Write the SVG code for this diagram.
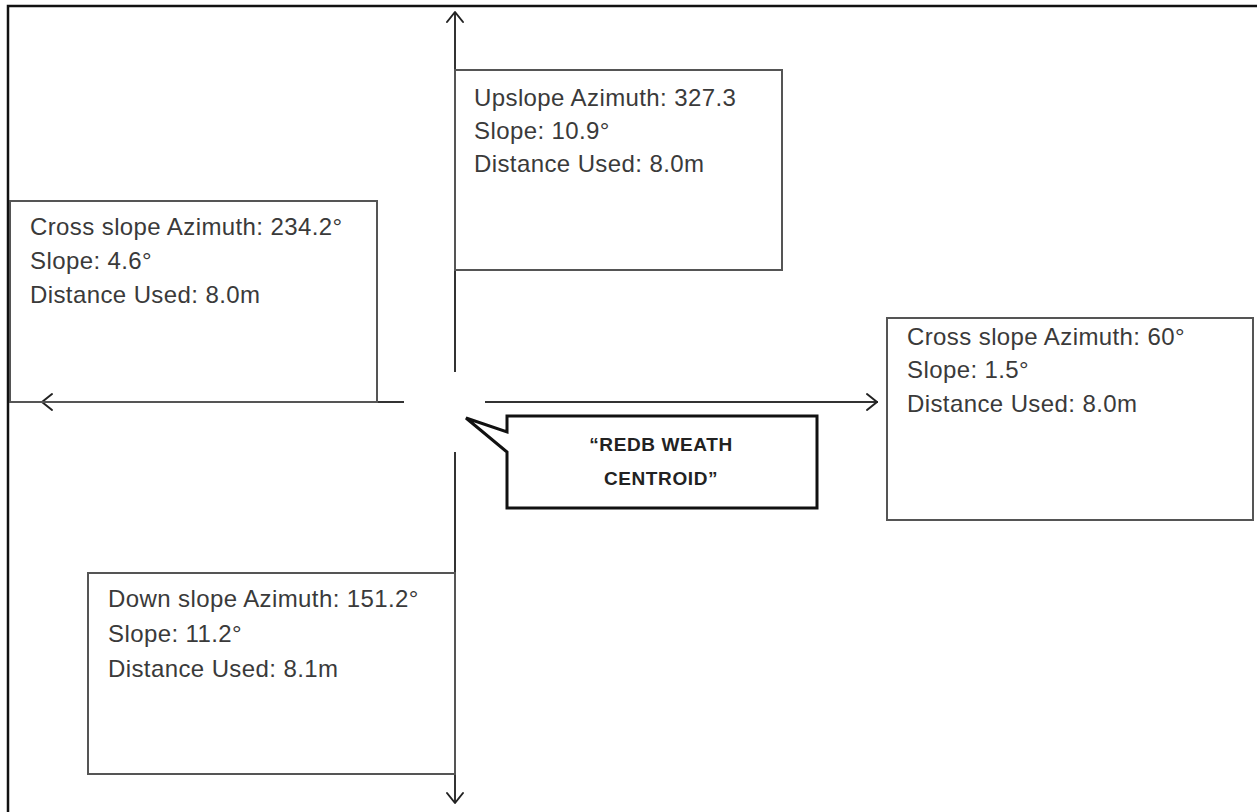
<svg xmlns="http://www.w3.org/2000/svg" width="1257" height="812" viewBox="0 0 1257 812">
<style>
.frame{fill:none;stroke:#111;stroke-width:2.5}
.box{fill:none;stroke:#555;stroke-width:2}
.ax{fill:none;stroke:#333;stroke-width:2}
.head{fill:none;stroke:#222;stroke-width:2;stroke-linecap:round;stroke-linejoin:round}
.t{font-family:"Liberation Sans",Arial,sans-serif;font-size:24px;fill:#3a3a3a;letter-spacing:0.4px}
.c{font-family:"Liberation Sans",Arial,sans-serif;font-size:19px;font-weight:bold;fill:#222;text-anchor:middle;letter-spacing:0.6px}
</style>
<rect width="1257" height="812" fill="#fff"/>
<g id="frame">
<path class="frame" d="M8,812 V6 H1257"/>
</g>
<g id="connectors">
<line class="ax" x1="455" y1="12" x2="455" y2="372"/>
<line class="ax" x1="455" y1="452" x2="455" y2="803"/>
<line class="ax" x1="40" y1="402" x2="404" y2="402"/>
<line class="ax" x1="485" y1="402" x2="878" y2="402"/>
<polyline class="head" points="447,22 455,12 463,22"/>
<polyline class="head" points="447,793 455,803 463,793"/>
<polyline class="head" points="52,394 42,402 52,410"/>
<polyline class="head" points="867,394 877,402 867,410"/>
</g>
<g id="upslope">
<rect class="box" x="455" y="70" width="327" height="200"/>
<text class="t" x="474" y="106">Upslope Azimuth: 327.3</text>
<text class="t" x="474" y="139">Slope: 10.9°</text>
<text class="t" x="474" y="172">Distance Used: 8.0m</text>
</g>
<g id="cross-left">
<rect class="box" x="10" y="201" width="367" height="201"/>
<text class="t" x="30" y="235">Cross slope Azimuth: 234.2°</text>
<text class="t" x="30" y="269">Slope: 4.6°</text>
<text class="t" x="30" y="303">Distance Used: 8.0m</text>
</g>
<g id="cross-right">
<rect class="box" x="887" y="318" width="366" height="202"/>
<text class="t" x="907" y="345">Cross slope Azimuth: 60°</text>
<text class="t" x="907" y="378">Slope: 1.5°</text>
<text class="t" x="907" y="412">Distance Used: 8.0m</text>
</g>
<g id="downslope">
<rect class="box" x="88" y="573" width="367" height="201"/>
<text class="t" x="108" y="607">Down slope Azimuth: 151.2°</text>
<text class="t" x="108" y="642">Slope: 11.2°</text>
<text class="t" x="108" y="677">Distance Used: 8.1m</text>
</g>
<g id="centroid">
<path d="M507,416 H817 V508 H507 V452 L466,418 L507,432 Z" fill="#fff" stroke="#111" stroke-width="3" stroke-linejoin="miter"/>
<text class="c" x="661" y="451">“REDB WEATH</text>
<text class="c" x="661" y="485">CENTROID”</text>
</g>
</svg>
